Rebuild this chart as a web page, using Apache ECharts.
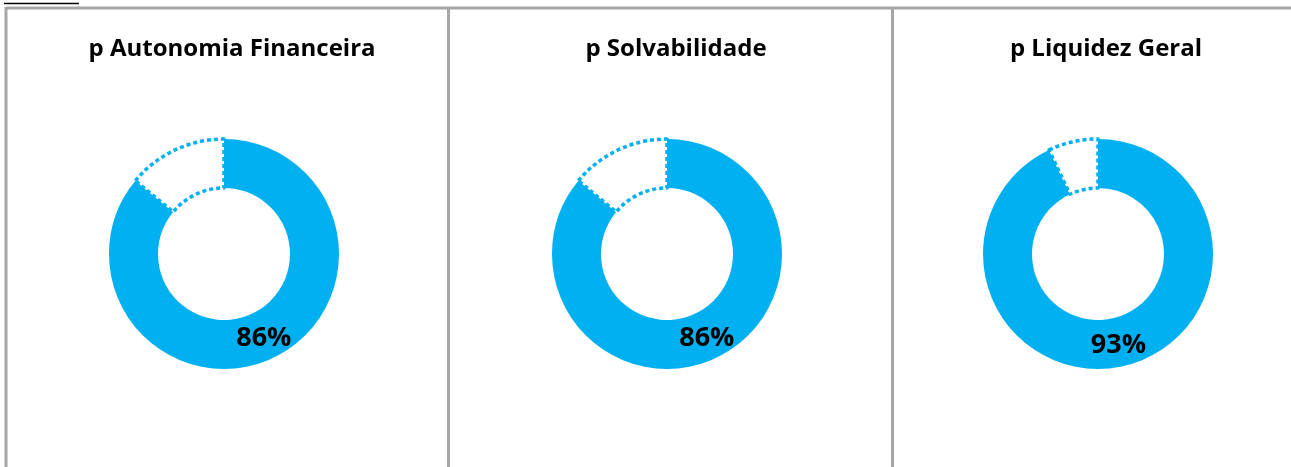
<!DOCTYPE html>
<html>
<head>
<meta charset="utf-8">
<script src="https://cdn.jsdelivr.net/npm/echarts@6/dist/echarts.min.js"></script>
<style>
html,body{margin:0;padding:0;background:#fff;}
#chart{width:1291px;height:467px;}
</style>
</head>
<body>
<div id="chart"></div>
<script>
const titles = ['p Autonomia Financeira', 'p Solvabilidade', 'p Liquidez Geral'];
const values = [86, 86, 93];
const remainders = [14, 14, 7];

const panelCenters = [227, 671, 1101];
const donutCenters = [224, 667, 1098];
const blue = '#00B0F0';
const gray = '#A6A6A6';

const chart = echarts.init(document.getElementById('chart'), null, {renderer: 'canvas'});

const series = values.map((v, i) => ({
  type: 'pie',
  center: [donutCenters[i], 254],
  radius: [66, 115],
  startAngle: 90,
  clockwise: true,
  silent: true,
  animation: false,
  avoidLabelOverlap: false,
  labelLine: {show: false},
  data: [
    {
      value: v,
      name: titles[i],
      itemStyle: {color: blue, borderWidth: 0},
      label: {
        show: true,
        position: 'inside',
        formatter: '{c}%',
        color: '#000',
        fontFamily: 'Open Sans',
        fontWeight: 'bold',
        fontSize: 27
      }
    },
    {
      value: remainders[i],
      name: 'rest',
      itemStyle: {color: '#fff', borderColor: blue, borderWidth: 3.5, borderType: [4, 3]},
      label: {show: false}
    }
  ]
}));

chart.setOption({
  backgroundColor: '#fff',
  animation: false,
  title: titles.map((t, i) => ({
    text: t,
    left: panelCenters[i],
    top: 32,
    textAlign: 'center',
    textStyle: {
      fontFamily: 'Open Sans',
      fontWeight: 'bold',
      fontSize: 24,
      color: '#000'
    }
  })),
  graphic: [
    {type: 'line', shape: {x1: 6, y1: 8, x2: 1291, y2: 8}, style: {stroke: gray, lineWidth: 3}},
    {type: 'line', shape: {x1: 6, y1: 7, x2: 6, y2: 467}, style: {stroke: gray, lineWidth: 3}},
    {type: 'line', shape: {x1: 448.5, y1: 7, x2: 448.5, y2: 467}, style: {stroke: gray, lineWidth: 3}},
    {type: 'line', shape: {x1: 892.5, y1: 7, x2: 892.5, y2: 467}, style: {stroke: gray, lineWidth: 3}},
    {type: 'line', shape: {x1: 4, y1: 3.5, x2: 79, y2: 3.5}, style: {stroke: '#000', lineWidth: 1.5}}
  ],
  series: series
});
</script>
</body>
</html>
